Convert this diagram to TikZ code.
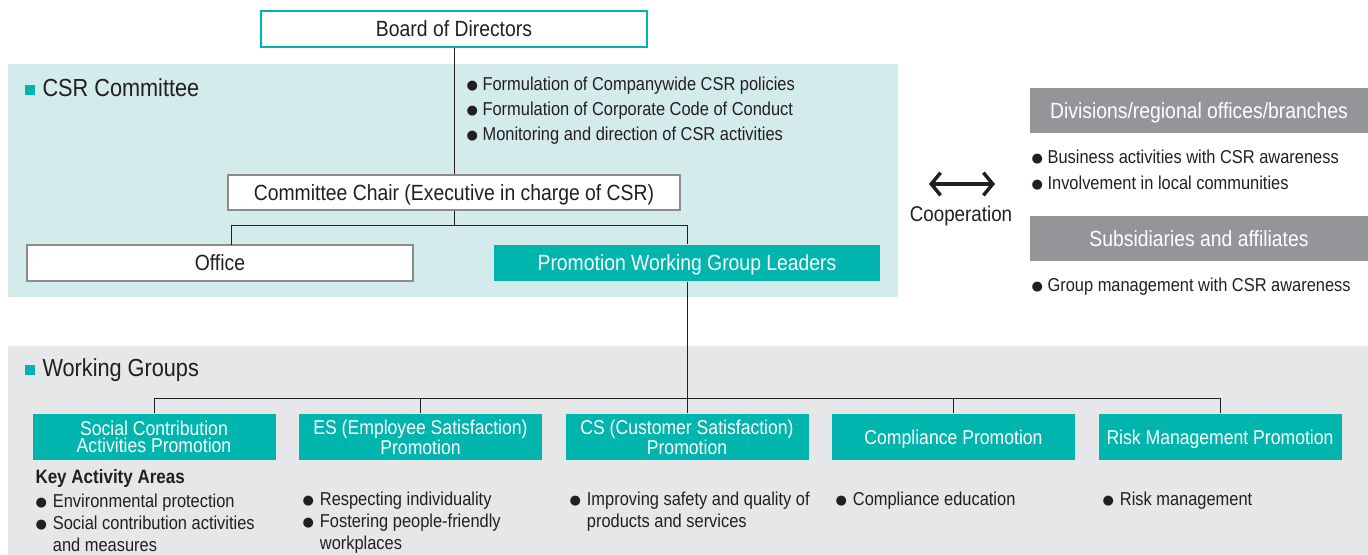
\documentclass[tikz,border=0pt]{standalone}
\usepackage{fontspec}
\setmainfont{Liberation Sans}[FakeStretch=0.88]
\newfontfamily\symfont{DejaVu Sans}
\usetikzlibrary{arrows.meta}

\definecolor{csrteal}{RGB}{0,181,173}
\definecolor{csrpanel}{RGB}{211,235,234}
\definecolor{wgpanel}{RGB}{230,231,232}
\definecolor{unitgray}{RGB}{147,149,152}
\definecolor{inkgray}{RGB}{35,31,32}
\definecolor{rulegray}{RGB}{140,140,140}

\newcommand{\bul}{{\symfont\fontsize{9.8}{9.8}\selectfont\raisebox{1.1pt}{●}}}
\newcommand{\sqr}{{\color{csrteal}\raisebox{1.3pt}{\rule{7.5pt}{7.5pt}}}}

\tikzset{every picture/.style={line width=0.75pt}}
\tikzset{
  orgbox/.style={draw=rulegray, line width=1.2pt, fill=white, text=inkgray, inner sep=0pt,
    text depth=0pt, minimum width=289.5pt, minimum height=27pt, font=\fontsize{16.5}{18}\selectfont},
  boardbox/.style={orgbox, draw=csrteal, line width=1.8pt},
  leadbox/.style={orgbox, draw=none, fill=csrteal, text=white},
  unitbox/.style={fill=unitgray, text=white, inner sep=0pt, text depth=0pt, minimum width=253.5pt,
    minimum height=33.75pt, font=\fontsize{16.5}{18}\selectfont},
  wgbox/.style={fill=csrteal, text=white, inner sep=0pt, align=center, minimum width=182.25pt,
    minimum height=34.5pt, font=\fontsize{15}{13}\selectfont},
  heading/.style={anchor=west, inner sep=0pt, text=inkgray, font=\fontsize{18.5}{20}\selectfont},
  duties/.style={anchor=base west, inner sep=0pt, text=inkgray, font=\fontsize{14}{18.75}\selectfont},
  tasks/.style={anchor=base west, inner sep=0pt, text=inkgray, font=\fontsize{14}{16.3}\selectfont},
  link/.style={draw=inkgray, line width=0.75pt},
  coop/.style={draw=inkgray, line width=2.6pt,
    {Straight Barb[length=7pt,width=17pt]}-{Straight Barb[length=7pt,width=17pt]}},
}

\begin{document}
\begin{tikzpicture}[x=0.75pt,y=0.75pt,yscale=-1,xscale=1]
\useasboundingbox (0,0) rectangle (1368,555);

%Shape: Rectangle (panels)
\fill[csrpanel] (8,64) rectangle (898,297);
\fill[wgpanel] (8,346) rectangle (1368,555);

% Boxes
\node (board) [boardbox] at (454,29) {Board of Directors};
\node (chair) [orgbox, minimum width=339pt, minimum height=26.25pt] at (454,192.5) {Committee Chair (Executive in charge of CSR)};
\node (office) [orgbox] at (220,263) {Office};
\node (leaders) [leadbox] at (687,263) {Promotion Working Group Leaders};
\node (divbox) [unitbox] at (1199,110.5) {Divisions/regional offices/branches};
\node (subbox) [unitbox] at (1199,238.5) {Subsidiaries and affiliates};

\node (wg1) [wgbox] at (154,437) {Social Contribution\\Activities Promotion};
\node (wg2) [wgbox] at (420.5,437) {ES (Employee Satisfaction)\\Promotion};
\node (wg3) [wgbox] at (687,437) {CS (Customer Satisfaction)\\Promotion};
\node (wg4) [wgbox, text depth=0pt] at (953.5,437) {Compliance Promotion};
\node (wg5) [wgbox, text depth=0pt] at (1220,437) {Risk Management Promotion};

% Text Node
\node (csrhead) [heading] at (24,88) {\sqr\hspace{6pt}CSR Committee};
% Text Node
\node (wghead) [heading] at (24,370) {\sqr\hspace{6pt}Working Groups};
% Text Node
\node (csrduties) [duties] at (466,91) {\begin{tabular}[t]{@{}l@{\hspace{3.5pt}}l@{}}
\bul & Formulation of Companywide CSR policies\\
\bul & Formulation of Corporate Code of Conduct\\
\bul & Monitoring and direction of CSR activities
\end{tabular}};
% Text Node
\node (divduties) [duties, font=\fontsize{14}{19.5}\selectfont] at (1031,164) {\begin{tabular}[t]{@{}l@{\hspace{3.5pt}}l@{}}
\bul & Business activities with CSR awareness\\
\bul & Involvement in local communities
\end{tabular}};
% Text Node
\node (subduties) [duties] at (1031,292) {\begin{tabular}[t]{@{}l@{\hspace{3.5pt}}l@{}}
\bul & Group management with CSR awareness
\end{tabular}};
% Text Node
\node (coop) [inner sep=0pt, text=inkgray, font=\fontsize{16}{18}\selectfont] at (961,216) {Cooperation};
\coordinate (coopl) at (929,184);
\coordinate (coopr) at (995,184);
\draw[coop] (coopl) -- (coopr);

% Text Node
\node (keyareas) [tasks, font=\fontsize{14.5}{16}\bfseries] at (35,484) {Key Activity Areas};
% Text Node
\node (wglist1) [tasks] at (35,508) {\begin{tabular}[t]{@{}l@{\hspace{4.5pt}}l@{}}
\bul & Environmental protection\\
\bul & Social contribution activities\\
 & and measures
\end{tabular}};
% Text Node
\node (wglist2) [tasks] at (302,506) {\begin{tabular}[t]{@{}l@{\hspace{4.5pt}}l@{}}
\bul & Respecting individuality\\
\bul & Fostering people-friendly\\
 & workplaces
\end{tabular}};
% Text Node
\node (wglist3) [tasks] at (569,506) {\begin{tabular}[t]{@{}l@{\hspace{4.5pt}}l@{}}
\bul & Improving safety and quality of\\
 & products and services
\end{tabular}};
% Text Node
\node (wglist4) [tasks] at (835,506) {\begin{tabular}[t]{@{}l@{\hspace{4.5pt}}l@{}}
\bul & Compliance education
\end{tabular}};
% Text Node
\node (wglist5) [tasks] at (1102,506) {\begin{tabular}[t]{@{}l@{\hspace{4.5pt}}l@{}}
\bul & Risk management
\end{tabular}};

%Straight Lines
\draw[link] (board.south) -- (chair.north);
\coordinate (csrbar) at (454,226);
\coordinate (officetop) at (231,245);
\draw[link] (chair.south) -- (csrbar) -| (officetop);
\draw[link] (csrbar) -| (leaders.north);
\draw[link] (leaders.south) -- (wg3.north);
\coordinate (wgbar) at (687,399);
\foreach \i in {1,2,4,5}
  \draw[link] (wgbar) -| (wg\i.north);

\end{tikzpicture}
\end{document}
